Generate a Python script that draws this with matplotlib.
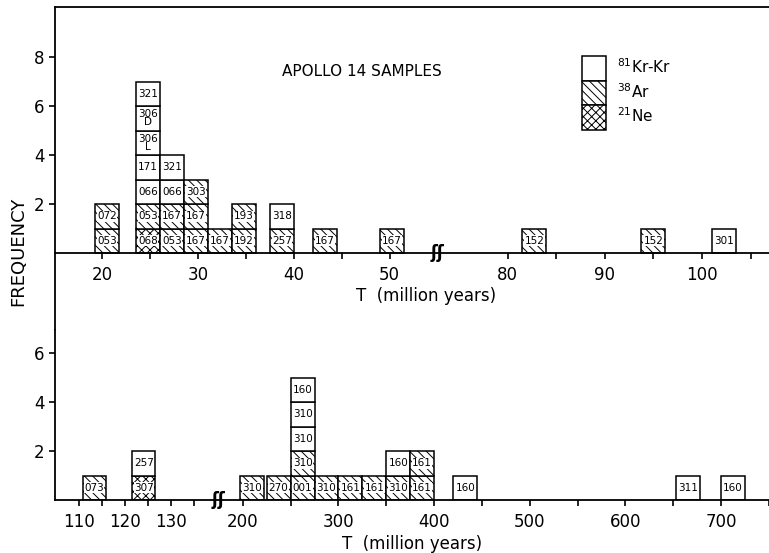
import numpy as np
import matplotlib
matplotlib.use('Agg')
import matplotlib.pyplot as plt
from matplotlib.patches import Rectangle

plt.rcParams.update({
    'font.family': 'DejaVu Sans',
    'hatch.linewidth': 0.7,
    'axes.linewidth': 1.3,
    'xtick.major.width': 1.2,
    'xtick.minor.width': 1.2,
    'ytick.major.width': 1.2,
    'xtick.major.size': 4,
    'xtick.minor.size': 4,
    'ytick.major.size': 4,
})

# Data: bin centres (T, million years) and stacked samples, bottom to top
top_t = [20.5, 24.75, 27.25, 29.75, 32.25, 34.75, 38.75, 43.25, 50.25, 82.75, 95.0, 102.25]
top_samples = [['053', '072'],
               ['068', '053', '066', '171', '306\nL', '306\nD', '321'],
               ['053', '167', '066', '321'],
               ['167', '167', '303'],
               ['167'], ['192', '193'], ['257', '318'], ['167'], ['167'],
               ['152'], ['152'], ['301']]
top_kinds = [['Ar', 'Ar'],
             ['Ne', 'Ar', 'Kr', 'Kr', 'Kr', 'Kr', 'Kr'],
             ['Ar', 'Ar', 'Kr', 'Kr'],
             ['Ar', 'Ar', 'Ar'],
             ['Ar'], ['Ar', 'Ar'], ['Ar', 'Kr'], ['Ar'], ['Ar'],
             ['Ar'], ['Ar'], ['Kr']]

bot_t = [113.2, 124.0, 210.0, 237.5, 262.5, 287.5, 312.5, 337.5, 362.5, 387.5, 432.5, 665.0, 712.5]
bot_samples = [['073'], ['307', '257'], ['310'], ['270'],
               ['001', '310', '310', '310', '160'],
               ['310'], ['161'], ['161'], ['310', '160'], ['161', '161'],
               ['160'], ['311'], ['160']]
bot_kinds = [['Ar'], ['Ne', 'Kr'], ['Ar'], ['Ar'],
             ['Ar', 'Ar', 'Kr', 'Kr', 'Kr'],
             ['Ar'], ['Ar'], ['Ar'], ['Ar', 'Kr'], ['Ar', 'Ar'],
             ['Kr'], ['Kr'], ['Kr']]

top_major = [20, 30, 40, 50, 80, 90, 100]
top_minor = [25, 35, 45, 85, 95, 105]
bot_major = [110, 120, 130, 200, 300, 400, 500, 600, 700]
bot_minor = [115, 125, 135, 250, 350, 450, 550, 650, 750]

hatches = {'Kr': None, 'Ar': '\\' * 4, 'Ne': 'xxxx'}
legend_labels = [r'$^{81}$Kr-Kr', r'$^{38}$Ar', r'$^{21}$Ne']


def broken_scale(x0, lo_end, hi_start, s1, s2):
    cut = (lo_end - x0) * s1

    def fwd(x):
        x = np.asarray(x, float)
        return (np.minimum(x, lo_end) - x0) * s1 + (np.maximum(x, hi_start) - hi_start) * s2

    def inv(p):
        p = np.asarray(p, float)
        return np.where(p <= cut, p / s1 + x0, hi_start + (p - cut) / s2)
    return fwd, inv


def draw_stacks(ax, ts, samples, kinds, width_of):
    for t, labs, kds in zip(ts, samples, kinds):
        w = width_of(t)
        for lvl, (lab, k) in enumerate(zip(labs, kds)):
            ax.bar(t, 1, bottom=lvl, width=w, facecolor='white', edgecolor='black',
                   linewidth=1.1, hatch=hatches[k])
            ax.text(t, lvl + 0.5, lab, ha='center', va='center', fontsize=7.5,
                    linespacing=0.8,
                    bbox=dict(facecolor='white', edgecolor='none', pad=0.3))


fig = plt.figure(figsize=(7.69, 5.53), dpi=100)
ax1 = fig.add_axes([0.072, 0.4033, 0.928, 0.584])
ax2 = fig.add_axes([0.072, 0.0958, 0.928, 0.3075])

# top panel
ax1.set_xscale('function', functions=broken_scale(15.1, 55.0, 72.8, 9.56, 9.7))
ax1.set_xlim(15.1, 106.9)
ax1.set_ylim(-3.14, 10.04)
draw_stacks(ax1, top_t, top_samples, top_kinds, lambda t: 2.5)
ax1.spines['right'].set_visible(False)
ax1.spines['bottom'].set_position(('data', 0))
ax1.set_xticks(top_major, [str(v) for v in top_major])
ax1.set_xticks(top_minor, minor=True)
ax1.set_yticks([2, 4, 6, 8])
ax1.tick_params(axis='x', which='both', direction='out', labelsize=12, pad=5)
ax1.tick_params(axis='x', which='minor', labelbottom=False)
ax1.tick_params(axis='y', labelsize=12, pad=4)
ax1.text(55.0, 0, 'ʃʃ', ha='center', va='center', fontsize=12, fontweight='bold')
ax1.text(0.43, 0.80, 'APOLLO 14 SAMPLES', transform=ax1.transAxes,
         ha='center', va='center', fontsize=11)
ax1.text(0.52, 0.105, 'T  (million years)', transform=ax1.transAxes,
         ha='center', va='center', fontsize=12)

# legend boxes
bw, bh = 24 / 713, 24.5 / 323
for i, k in enumerate(['Kr', 'Ar', 'Ne']):
    y0 = 0.848 - (i + 1) * bh
    ax1.add_patch(Rectangle((0.738, y0), bw, bh, transform=ax1.transAxes,
                            facecolor='white', edgecolor='black', linewidth=1.1,
                            hatch=hatches[k]))
    ax1.text(0.787, y0 + bh * 0.55, legend_labels[i], transform=ax1.transAxes,
             ha='left', va='center', fontsize=11)

# bottom panel
ax2.set_xscale('function', functions=broken_scale(104.8, 140.1, 174.1, 4.65, 0.966))
ax2.set_xlim(104.8, 742)
ax2.set_ylim(0, 6.94)
draw_stacks(ax2, bot_t, bot_samples, bot_kinds, lambda t: 5 if t < 150 else 25)
ax2.spines['right'].set_visible(False)
ax2.spines['top'].set_visible(False)
ax2.set_xticks(bot_major, [str(v) for v in bot_major])
ax2.set_xticks(bot_minor, minor=True)
ax2.set_yticks([2, 4, 6])
ax2.tick_params(axis='x', which='both', direction='out', labelsize=12, pad=5)
ax2.tick_params(axis='y', labelsize=12, pad=4)
ax2.text(140.1, 0, 'ʃʃ', ha='center', va='center', fontsize=12, fontweight='bold')
ax2.set_xlabel('T  (million years)', fontsize=12, labelpad=3)

fig.text(0.024, 0.545, 'FREQUENCY', rotation=90, ha='center', va='center', fontsize=13)

fig.savefig('out.png', dpi=100)
